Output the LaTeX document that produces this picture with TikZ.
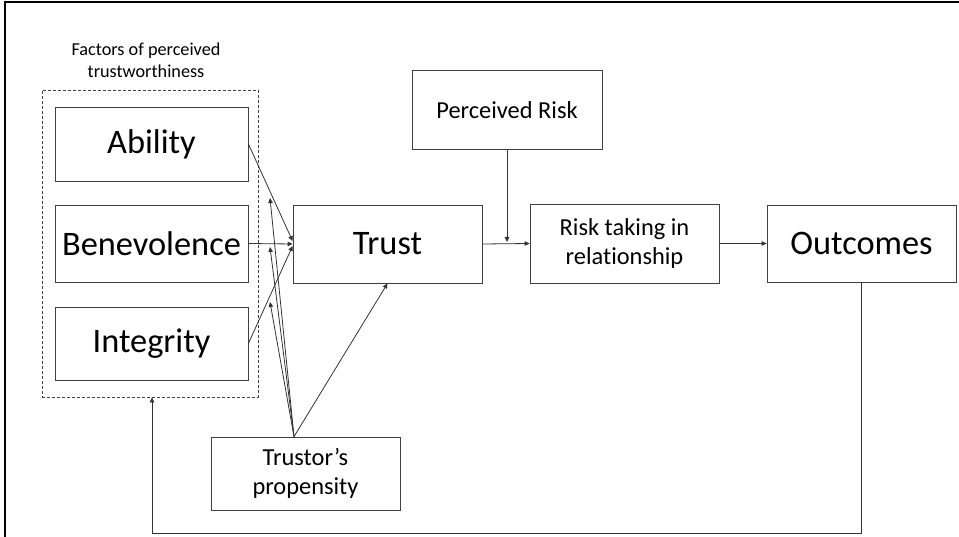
\documentclass[tikz,border=0pt]{standalone}
\usepackage{fontspec}
\setmainfont[Ligatures=NoCommon]{Carlito}
\usetikzlibrary{arrows.meta,calc}
\begin{document}
\begin{tikzpicture}[x=1bp,y=-1bp,
  box/.style={draw=black!75,line width=0.8bp,rectangle,inner sep=0pt,align=center,minimum width=189bp},
  bigtext/.style={font=\fontsize{34.5}{41}\selectfont},
  midtext/.style={font=\fontsize{24.5}{29.5}\selectfont},
  smalltext/.style={font=\fontsize{18.3}{22}\selectfont},
  conn/.style={draw=black!80,line width=0.8bp},
  arr/.style={conn,-{Triangle[length=5bp,width=4.5bp]}},
  frameline/.style={line width=2.2bp,black}]
\useasboundingbox (0,0) rectangle (959,537);
% outer frame (top and left edges)
\draw[frameline] (5,540) -- (5,2) -- (962,2);

% factors of perceived trustworthiness
\node[draw=black!75,dashed,dash pattern=on 3bp off 2bp,line width=0.8bp,
      minimum width=216bp,minimum height=307bp,inner sep=0pt] (factors) at (150,243.5) {};
\node[smalltext,align=center] (factorslabel) at (146,60) {Factors of perceived\\trustworthiness};
\node[box,bigtext,minimum width=193bp,minimum height=74bp] (ability) at (151.5,144) {Ability};
\node[box,bigtext,minimum width=193bp,minimum height=77bp] (benevolence) at (151.5,243.5) {Benevolence};
\node[box,bigtext,minimum width=193bp,minimum height=73bp] (integrity) at (151.5,343.5) {Integrity};

% main chain
\node[box,bigtext,minimum height=78bp] (trust) at (387.5,244) {Trust};
\node[box,midtext,minimum width=190bp,minimum height=79bp] (perceived) at (507,110) {Perceived Risk};
\node[box,midtext,minimum height=79bp] (risktaking) at (624.5,243.5) {Risk taking in\\relationship};
\node[box,bigtext,minimum height=77bp] (outcomes) at (861.5,243.5) {Outcomes};
\node[box,midtext,minimum height=73bp] (propensity) at (305.5,473.5) {Trustor’s\\propensity};

% factors to trust
\draw[arr] (ability.east) -- ($(trust.west)+(0,-3)$);
\draw[arr] (benevolence.east) -- (trust.west);
\draw[arr] (integrity.east) -- ($(trust.west)+(0,2)$);

% propensity moderates the factor links
\coordinate (pbase) at ($(propensity.north)+(-11.5,0)$);
\coordinate (mod1) at (270,198);
\coordinate (mod2) at (270,247);
\coordinate (mod3) at (270,302);
\draw[arr] (pbase) -- (mod1);
\draw[arr] (pbase) -- (mod2);
\draw[arr] (pbase) -- (mod3);
\draw[arr] (pbase) -- (trust.south);

% risk
\draw[arr] (trust.east) -- (risktaking.west);
\coordinate (riskjoin) at ($(perceived.south |- trust.east)+(0,-2)$);
\draw[arr] (perceived.south) -- (riskjoin);
\draw[arr] (risktaking.east) -- (outcomes.west);

% feedback loop
\coordinate (fb1) at ($(outcomes.south)+(0,250.5)$);
\coordinate (fb2) at (152,533);
\draw[arr] (outcomes.south) -- (fb1 |- fb2) -- (fb2) -- (fb2 |- factors.south);
\end{tikzpicture}
\end{document}
